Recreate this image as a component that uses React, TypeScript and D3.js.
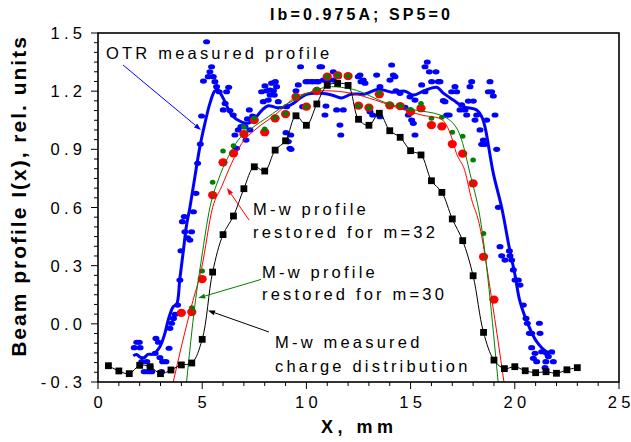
import React from "react";
import * as d3 from "d3";

const W = 631, H = 442;
const M = { left: 98, right: 619, top: 33, bottom: 382 };

const title = "Ib=0.975A; SP5=0";
const xLabel = "X, mm";
const yLabel = "Beam profile I(x), rel. units";
const xMajor = [0, 5, 10, 15, 20, 25];
const yMajor = [-0.3, 0.0, 0.3, 0.6, 0.9, 1.2, 1.5];

// M-w measured charge distribution (black squares)
const mwX = [0.5,1,1.5,2,2.5,3,3.5,4,4.5,5,5.5,6,6.5,7,7.5,8,8.5,9,9.5,10,10.5,11,11.5,12,12.5,13,13.5,14,14.5,15,15.5,16,16.5,17,17.5,18,18.5,19,19.5,20,20.5,21,21.5,22,22.5,23];
const mwY = [-0.216,-0.243,-0.257,-0.214,-0.221,-0.257,-0.238,-0.212,-0.202,-0.08,0.267,0.46,0.556,0.697,0.81,0.788,0.896,0.944,1.073,1.024,1.134,1.23,1.24,1.23,1.055,1.024,1.086,0.996,0.962,0.893,0.871,0.738,0.678,0.541,0.429,0.248,-0.044,-0.187,-0.231,-0.221,-0.242,-0.252,-0.247,-0.255,-0.237,-0.226];

// restored m=32 (red dots)
const r32X = [4,4.5,5,5.5,6,6.5,7,7.5,8,8.5,9,9.5,10,10.5,11,11.5,12,12.5,13,13.5,14,14.5,15,15.5,16,16.5,17,17.5,18,18.5,19];
const r32Y = [0.057,0.061,0.231,0.664,0.833,0.879,0.979,1.051,0.988,1.06,1.082,1.171,1.12,1.202,1.275,1.282,1.278,1.125,1.115,1.184,1.127,1.123,1.094,1.112,1.025,1.018,0.927,0.878,0.724,0.346,0.125];

// restored m=30 (green dots)
const r30X = [4.5,5,5.5,6,6.5,7,7.5,8,8.5,9,9.5,10,10.5,11,11.5,12,12.5,13,13.5,14,14.5,15,15.5,16,16.5,17,17.5,18,18.5];
const r30Y = [0.083,0.272,0.73,0.891,0.919,1.015,1.06,1.005,1.065,1.085,1.175,1.12,1.21,1.275,1.282,1.278,1.125,1.115,1.19,1.13,1.125,1.106,1.137,1.06,1.066,0.988,0.967,0.845,0.466];

// restored curves
const red32Curve: [number, number][] = [[3.61,-0.3],[4.02,-0.109],[4.5,0.097],[4.97,0.286],[5.5,0.6],[5.93,0.707],[6.41,0.828],[6.9,0.931],[7.53,1.0],[8.49,1.077],[9.5,1.17],[10.4,1.197],[10.9,1.202],[12.17,1.189],[13.3,1.154],[14.7,1.103],[15.6,1.075],[16.4,1.06],[16.9,0.983],[17.2,0.879],[17.6,0.79],[17.93,0.64],[18.25,0.535],[18.9,0.123],[19.48,-0.3]];
const green30Curve: [number, number][] = [[4.25,-0.3],[4.65,0.097],[4.97,0.338],[5.37,0.6],[5.77,0.742],[6.25,0.862],[6.73,0.948],[7.37,1.008],[8.17,1.068],[9.0,1.13],[9.7,1.17],[10.3,1.2],[11.2,1.223],[12.2,1.21],[13.9,1.137],[15.2,1.103],[16.41,1.077],[17.21,1.01],[17.45,0.948],[17.85,0.776],[18.33,0.55],[19.2,-0.3]];

// OTR smoothed profile (blue line)
const otrLine: [number, number][] = [[1.69,-0.165],[1.85,-0.158],[2.0,-0.17],[2.2,-0.175],[2.4,-0.158],[2.65,-0.156],[2.97,-0.118],[3.21,-0.049],[3.37,0.02],[3.61,0.088],[3.77,0.1],[3.93,0.235],[4.09,0.372],[4.25,0.51],[4.41,0.6],[4.65,0.759],[4.89,0.914],[5.13,1.034],[5.37,1.137],[5.6,1.2],[5.75,1.205],[5.9,1.185],[6.09,1.146],[6.41,1.077],[6.9,1.04],[7.2,1.035],[7.45,1.05],[7.85,1.1],[8.17,1.125],[8.6,1.115],[9.05,1.12],[9.37,1.137],[9.93,1.18],[10.57,1.19],[11.21,1.18],[11.69,1.165],[12.17,1.185],[12.81,1.185],[13.45,1.21],[14.09,1.195],[14.73,1.2],[15.13,1.18],[15.61,1.2],[16.25,1.22],[16.57,1.19],[17.05,1.154],[17.53,1.12],[18.17,1.103],[18.45,1.06],[18.6,1.0],[18.97,0.776],[19.37,0.6],[19.74,0.39],[20.01,0.252],[20.25,0.114],[20.65,-0.006],[21.05,-0.092],[21.53,-0.144],[21.9,-0.15]];

// OTR measured points (blue dots)
const otrDots: [number, number][] = [
[1.74,-0.123],[1.86,-0.095],[1.98,-0.095],[2.02,-0.123],[2.10,-0.195],[2.22,-0.247],[2.34,-0.195],[2.42,-0.247],[2.5,-0.22],[2.58,-0.247],[2.74,-0.152],[2.78,-0.075],[2.90,-0.095],[2.97,-0.174],[3.05,-0.247],[3.10,-0.195],[3.26,-0.195],[3.41,-0.126],[3.45,-0.023],[3.53,0.003],[3.62,0.028],[3.70,0.049],[3.82,0.097],[3.93,0.226],[3.98,0.377],[4.05,0.527],[4.14,0.553],[4.17,0.475],[4.30,0.444],[4.41,0.432],[4.49,0.475],[4.58,0.578],
[4.70,0.673],[4.78,0.828],[4.91,0.927],[4.97,1.072],[5.06,1.252],[5.21,1.455],[5.29,1.275],[5.37,1.300],[5.45,1.326],[5.53,1.275],[5.61,1.249],[5.69,1.223],[5.81,1.197],[6.01,1.103],[6.10,1.137],[6.17,1.197],[6.27,1.22],[6.33,1.10],[6.49,1.077],[6.57,0.974],[6.65,0.905],[6.73,1.0],[6.86,1.017],[7.05,1.017],[7.10,0.948],[7.17,1.057],[7.26,1.103],[7.29,1.0],[7.42,1.072],[7.85,1.197],[7.93,1.146],[8.01,1.227],[8.09,1.202],[8.17,1.154],[8.26,1.18],[8.33,1.241],[8.42,1.202],[8.51,1.249],
[8.25,1.206],[8.46,1.18],[8.57,1.223],[8.65,1.146],[9.02,0.986],[9.05,1.12],[9.13,0.94],[9.21,0.905],[9.25,0.974],[9.26,0.9],[9.50,1.202],[9.61,1.232],[9.72,1.326],[9.82,1.12],[9.98,1.249],[10.09,1.249],[10.25,1.249],[10.33,1.249],[10.5,1.249],[10.57,1.249],[10.65,1.326],[10.73,1.326],[10.81,1.257],[10.89,1.077],[10.94,1.123],[11.05,1.257],[11.29,1.3],[11.29,1.257],[11.45,1.103],[11.53,1.275],[11.61,1.025],[11.65,0.974],[11.77,1.103],[12.49,1.275],[12.57,1.283],[12.62,1.249],[12.73,1.257],[12.81,1.241],[13.05,1.094],[13.18,1.077],[13.37,1.283],[13.53,1.068],[13.53,1.223],[14.01,1.257],[14.09,1.335],[14.17,1.283],[14.25,1.275],[14.30,1.202],[14.49,1.189],[14.73,1.117],[14.89,1.077],[14.97,1.171],[15.05,1.051],[15.13,1.034],[15.21,0.974],[15.21,1.154],[15.53,1.232],[15.69,1.326],[15.69,1.197],[15.80,1.35],[15.9,1.3],[16.01,1.249],[16.22,1.3],[16.33,1.249],
[16.41,1.249],[16.57,1.151],[16.65,1.146],[16.73,1.077],[16.85,1.077],[16.97,1.197],[17.13,1.223],[17.21,1.197],[17.37,1.103],[17.45,1.129],[17.61,1.103],[17.69,1.077],[17.77,1.149],[17.85,1.223],[17.93,1.249],[18.01,1.149],[18.09,1.051],[18.17,1.077],[18.33,1.0],[18.41,0.926],[18.49,0.948],[18.57,0.926],[18.65,1.051],[18.73,1.197],[18.81,1.249],[18.89,1.197],[18.97,1.175],[19.05,1.077],[19.13,0.9],[19.21,0.601],
[19.29,0.398],[19.37,0.351],[19.53,0.329],[19.74,0.376],[19.77,0.351],[19.85,0.329],[19.93,0.278],[20.01,0.226],[20.17,0.226],[20.25,0.2],[20.41,0.097],[20.54,0.028],[20.6,0.003],[20.7,-0.049],[20.81,-0.049],[21.18,0.003],[21.21,-0.049],[20.81,-0.123],[20.97,-0.152],[20.89,-0.178],[21.05,-0.195],[21.29,-0.144],[21.53,-0.152],[21.61,-0.169],[21.49,-0.195],[21.85,-0.195],[21.77,-0.144],[21.45,-0.226]
];

const FONT = "'Liberation Sans', Arial, Helvetica, sans-serif";

// text with letter spacing between glyphs but none after the last one
function Spaced({ s, spacing }: { s: string; spacing: number }) {
  const head = s.slice(0, -1), last = s.slice(-1);
  return (
    <>
      <tspan style={{ letterSpacing: `${spacing}px` }}>{head}</tspan>
      <tspan style={{ letterSpacing: "0px" }}>{last}</tspan>
    </>
  );
}

export default function App() {
  const x = d3.scaleLinear().domain([0, 25]).range([M.left, M.right]);
  const y = d3.scaleLinear().domain([-0.3, 1.5]).range([M.bottom, M.top]);

  const xMinor = d3.range(0, 25.001, 1);
  const yMinor = d3.range(-0.3, 1.5001, 0.05);

  const lineLin = d3.line<[number, number]>().x(d => x(d[0])).y(d => y(d[1])).curve(d3.curveMonotoneX);
  const lineSmooth = d3.line<[number, number]>().x(d => x(d[0])).y(d => y(d[1])).curve(d3.curveCatmullRom.alpha(0.5));

  const mw: [number, number][] = mwX.map((v, i) => [v, mwY[i]]);
  const r32: [number, number][] = r32X.map((v, i) => [v, r32Y[i]]);
  const r30: [number, number][] = r30X.map((v, i) => [v, r30Y[i]]);

  const arrow = (x1: number, y1: number, x2: number, y2: number, color: string, key: string) => {
    const px1 = x(x1), py1 = y(y1), px2 = x(x2), py2 = y(y2);
    const ang = Math.atan2(py2 - py1, px2 - px1);
    const L = 7, Wd = 2.5;
    const bx = px2 - L * Math.cos(ang), by = py2 - L * Math.sin(ang);
    const p1 = [bx + Wd * Math.sin(ang), by - Wd * Math.cos(ang)];
    const p2 = [bx - Wd * Math.sin(ang), by + Wd * Math.cos(ang)];
    return (
      <g key={key}>
        <line x1={px1} y1={py1} x2={bx} y2={by} stroke={color} strokeWidth={1} />
        <polygon points={`${px2},${py2} ${p1[0]},${p1[1]} ${p2[0]},${p2[1]}`} fill={color} />
      </g>
    );
  };

  const annStyle = { fontFamily: FONT, fontSize: 16.5, letterSpacing: "3.2px", fill: "#000" } as React.CSSProperties;
  const tickStyle = { fontFamily: FONT, fontSize: 16.5 } as React.CSSProperties;

  return (
    <svg width={W} height={H} style={{ position: "absolute", left: 0, top: 0, display: "block", background: "#fff" }}>
      <defs>
        <clipPath id="plot">
          <rect x={M.left} y={M.top} width={M.right - M.left} height={M.bottom - M.top} />
        </clipPath>
      </defs>
      <rect x={0} y={0} width={W} height={H} fill="#fff" />

      {/* title */}
      <text x={360} y={20} textAnchor="middle" style={{ fontFamily: FONT, fontSize: 16, fontWeight: "bold" }}><Spaced s={title} spacing={3.1} /></text>

      {/* axes ticks */}
      {xMinor.map(v => (
        <line key={"xm" + v} x1={x(v)} x2={x(v)} y1={M.bottom} y2={M.bottom + (v % 5 === 0 ? 7 : 4)} stroke="#000" strokeWidth={1} />
      ))}
      {yMinor.map((v, i) => (
        <line key={"ym" + i} x1={M.left} x2={M.left - (i % 6 === 0 ? 7 : 4)} y1={y(v)} y2={y(v)} stroke="#000" strokeWidth={1} />
      ))}
      {xMajor.map(v => (
        <text key={"xt" + v} x={x(v)} y={408} textAnchor="middle" style={tickStyle}><Spaced s={String(v)} spacing={4.3} /></text>
      ))}
      {yMajor.map(v => (
        <text key={"yt" + v} x={82} y={y(v)} textAnchor="end" dominantBaseline="central" style={tickStyle}><Spaced s={v.toFixed(1)} spacing={4.3} /></text>
      ))}

      {/* axis labels */}
      <text x={357} y={433} textAnchor="middle" style={{ fontFamily: FONT, fontSize: 18, fontWeight: "bold" }}><Spaced s={xLabel} spacing={4.5} /></text>
      <text transform={`translate(26,${197}) rotate(-90)`} textAnchor="middle" style={{ fontFamily: FONT, fontSize: 21, fontWeight: "bold" }}><Spaced s={yLabel} spacing={2} /></text>

      <g clipPath="url(#plot)">
        {/* blue dots */}
        {otrDots.map((d, i) => (
          <ellipse key={"b" + i} cx={x(d[0])} cy={y(d[1])} rx={3.5} ry={2.6} fill="#0000ff" />
        ))}
        <path d={lineSmooth(otrLine) || ""} fill="none" stroke="#0000ff" strokeWidth={3} />

        {/* red dots */}
        {r32.map((d, i) => (
          <ellipse key={"r" + i} cx={x(d[0])} cy={y(d[1])} rx={4.6} ry={4.1} fill="#ff0000" />
        ))}
        {/* green dots */}
        {r30.map((d, i) => (
          <ellipse key={"g" + i} cx={x(d[0])} cy={y(d[1])} rx={2.8} ry={2.5} fill="#008000" />
        ))}
        <path d={lineLin(red32Curve) || ""} fill="none" stroke="#ff0000" strokeWidth={1} />
        <path d={lineLin(green30Curve) || ""} fill="none" stroke="#008000" strokeWidth={1} />

        {/* black measured */}
        <path d={lineSmooth(mw) || ""} fill="none" stroke="#000" strokeWidth={1} />
        {mw.map((d, i) => (
          <rect key={"k" + i} x={x(d[0]) - 3.4} y={y(d[1]) - 3.4} width={6.8} height={6.8} fill="#000" />
        ))}
      </g>

      {/* frame */}
      <rect x={M.left} y={M.top} width={M.right - M.left} height={M.bottom - M.top} fill="none" stroke="#000" strokeWidth={1.6} />

      {/* annotations */}
      <text x={106} y={59} style={annStyle}>OTR measured profile</text>
      {arrow(1.2, 1.335, 4.94, 1.0, "#0000ff", "ab")}

      <text x={253} y={215} style={annStyle}>M-w profile</text>
      <text x={253} y={238} style={annStyle}>restored for m=32</text>
      {arrow(7.25, 0.535, 6.19, 0.70, "#ff0000", "ar")}

      <text x={262} y={278} style={annStyle}>M-w profile</text>
      <text x={262} y={300} style={annStyle}>restored for m=30</text>
      {arrow(7.82, 0.229, 4.81, 0.133, "#008000", "ag")}

      <text x={275} y={348} style={annStyle}>M-w measured</text>
      <text x={275} y={372} style={annStyle}>charge distribution</text>
      {arrow(8.2, -0.042, 5.28, 0.069, "#000", "ak")}
    </svg>
  );
}
